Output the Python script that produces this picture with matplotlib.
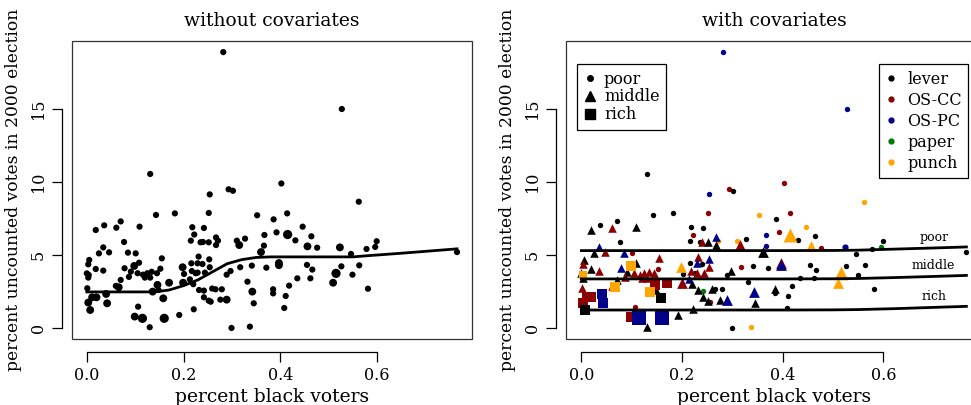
import numpy as np
import matplotlib.pyplot as plt
from matplotlib.patches import Rectangle
from matplotlib.lines import Line2D

# county data: percent black voters, percent uncounted votes
pct_black = [0.282, 0.527, 0.131, 0.293, 0.302, 0.254, 0.402, 0.562, 0.143, 0.182,
             0.252, 0.414, 0.352, 0.386, 0.036, 0.070, 0.218, 0.242, 0.222, 0.446,
             0.392, 0.367, 0.464, 0.431, 0.327, 0.310, 0.215, 0.235, 0.077, 0.271,
             0.366, 0.476, 0.523, 0.578, 0.596, 0.599, 0.765, 0.546, 0.563, 0.526,
             0.549, 0.581, 0.455, 0.466, 0.435, 0.462, 0.418, 0.411, 0.408, 0.385,
             0.371, 0.341, 0.317, 0.332, 0.337, 0.299, 0.289, 0.279, 0.266, 0.256,
             0.216, 0.239, 0.201, 0.225, 0.242, 0.101, 0.152, 0.106,
             0.0185, 0.061, 0.109, 0.267, 0.240, 0.252, 0.267, 0.315, 0.360, 0.415,
             0.456, 0.515, 0.509, 0.397, 0.397, 0.385, 0.342, 0.345, 0.297, 0.276,
             0.289, 0.259, 0.252, 0.242, 0.231, 0.229, 0.253, 0.254, 0.198, 0.217,
             0.229, 0.244, 0.199, 0.213, 0.220, 0.232, 0.191, 0.221, 0.130, 0.034,
             0.085, 0.046, 0.025, 0.155, 0.005, 0.003, 0.0185, 0.034, 0.078, 0.108,
             0.091, 0.000, 0.003, 0.087, 0.105, 0.116, 0.125, 0.134, 0.145, 0.120,
             0.131, 0.070, 0.060, 0.001, 0.148,
             0.098, 0.004, 0.066, 0.146, 0.170, 0.136, 0.158, 0.011, 0.020, 0.003,
             0.040, 0.042, 0.007, 0.099, 0.115, 0.160]
pct_uncounted = [18.9, 15.0, 10.55, 9.5, 9.4, 9.15, 9.9, 8.65, 7.74, 7.85,
                 7.88, 7.85, 7.72, 7.44, 7.03, 7.3, 6.9, 6.85, 6.4, 6.94,
                 6.55, 6.37, 6.28, 6.0, 6.12, 5.98, 5.98, 5.87, 5.89, 5.98,
                 5.64, 5.5, 5.52, 5.41, 5.55, 5.94, 5.2, 5.07, 4.29, 4.22,
                 3.65, 2.69, 4.32, 4.0, 3.4, 3.4, 2.9, 2.19, 1.37, 2.37,
                 4.13, 4.27, 4.16, 3.17, 0.09, 0.0, 3.65, 2.65, 2.65, 1.8,
                 4.43, 4.38, 3.7, 3.75, 2.56, 5.11, 4.06, 1.46,
                 6.71, 6.87, 6.94, 6.2, 5.89, 5.87, 5.68, 5.68, 5.2, 6.4,
                 5.59, 3.74, 3.1, 4.45, 4.3, 2.65, 2.49, 1.69, 3.9, 1.94,
                 1.94, 2.7, 1.87, 2.1, 4.89, 4.43, 4.7, 4.16, 4.16, 3.9,
                 3.79, 3.79, 3.1, 3.33, 3.0, 2.6, 0.89, 1.28, 0.05, 5.52,
                 5.16, 5.18, 5.11, 4.77, 4.66, 4.36, 4.04, 3.93, 4.09, 4.47,
                 3.86, 3.74, 3.45, 3.5, 3.75, 3.65, 3.75, 3.85, 3.75, 3.45,
                 3.45, 3.29, 2.88, 2.72, 2.6,
                 4.25, 3.63, 2.79, 2.95, 3.1, 2.49, 2.03, 2.1, 2.1, 1.74,
                 2.33, 1.69, 1.23, 0.78, 0.66, 0.66]
# income group: P poor, M middle, R rich
income = list("P" * 68 + "M" * 65 + "R" * 16)
# voting machine: L lever, C OS-CC, B OS-PC, G paper, U punch
machine = list("BBLCLBCULL" "CCULLLLLCU" "CBLLLULLLU" "BCBLGLLLLL"
               "LLLLLLLLLL" "LLCLULLLLC" "LLLLGCCC"
               "LCLBCLLCLU" "UUUCBLBLLL" "BLLLCBBCUC" "CCCBLLLLLB"
               "BCLCLCLCBL" "LBLCCCCCCC" "CLCCL"
               "UUUCCULCCC" "BBLCBB")
# marker size class (1 small .. 3 large)
weight = ([1] * 32 + [2] + [1] * 35 +
          [1, 1, 1, 1, 1, 1, 1, 2, 2, 3, 2, 3, 2, 2, 2, 1, 2, 1, 1, 1,
           2, 1, 1, 1, 1, 1, 1, 1, 2, 1, 1, 1, 2] + [1] * 32 +
          [2, 1, 2, 2, 2, 2, 2, 2, 2, 2, 2, 2, 2, 2, 3, 3])

# fitted curves
curve_x = [0, 0.14, 0.17, 0.2, 0.23, 0.26, 0.29, 0.32, 0.35, 0.38, 0.45, 0.55, 0.58, 0.65, 0.765]
curve_y = [2.47, 2.47, 2.6, 2.9, 3.3, 3.85, 4.4, 4.68, 4.83, 4.87, 4.87, 4.87, 4.95, 5.12, 5.42]
fit_x = [0, 0.2, 0.4, 0.5, 0.55, 0.62, 0.7, 0.765]
fit_poor = [5.3, 5.3, 5.3, 5.31, 5.33, 5.4, 5.48, 5.55]
fit_middle = [3.36, 3.36, 3.36, 3.37, 3.39, 3.45, 3.53, 3.6]
fit_rich = [1.23, 1.23, 1.23, 1.24, 1.26, 1.32, 1.41, 1.48]

machine_names = {"L": "lever", "C": "OS-CC", "B": "OS-PC", "G": "paper", "U": "punch"}
machine_colors = {"L": "black", "C": "#8B0000", "B": "#00008B", "G": "#007A00", "U": "#FFA500"}
income_names = {"P": "poor", "M": "middle", "R": "rich"}
income_marker = {"P": "o", "M": "^", "R": "s"}

plt.rcParams['font.family'] = ['DejaVu Serif']
plt.rcParams['axes.linewidth'] = 0.9

fig = plt.figure(figsize=(9.71, 4.05), dpi=100)
ax1 = fig.add_axes([72 / 971, 66 / 405, 400 / 971, 298 / 405])
ax2 = fig.add_axes([566 / 971, 66 / 405, 416 / 971, 298 / 405])

xs = np.array(pct_black)
ys = np.array(pct_uncounted)


def r_style(ax, title):
    # R-ish look: box plus detached axes
    ax.set_xlim(-0.0306, 0.796)
    ax.set_ylim(-0.756, 19.66)
    for s in ['top', 'right']:
        ax.spines[s].set_visible(False)
    ax.spines['bottom'].set_position(('outward', 9))
    ax.spines['left'].set_position(('outward', 7))
    ax.spines['bottom'].set_bounds(0, 0.6)
    ax.spines['left'].set_bounds(0, 15)
    ax.add_patch(Rectangle((0, 0), 1, 1, transform=ax.transAxes, fill=False,
                           lw=0.9, ec='#333333', clip_on=False, zorder=5))
    ax.set_xticks([0, 0.2, 0.4, 0.6])
    ax.set_xticklabels(["0.0", "0.2", "0.4", "0.6"])
    ax.set_yticks([0, 5, 10, 15])
    ax.set_yticklabels(["0", "5", "10", "15"], rotation=90, va='center')
    ax.tick_params(length=7, width=0.9, labelsize=11.5, pad=4)
    ax.set_xlabel("percent black voters", fontsize=13.5, labelpad=3)
    ax.set_ylabel("percent uncounted votes in 2000 election", fontsize=12.3, labelpad=6)
    ax.set_title(title, fontsize=13.5, pad=11)


# left: no covariates
sz_left = {1: 20, 2: 32, 3: 44}
ax1.scatter(xs, ys, s=[sz_left[k] for k in weight], c='black', lw=0, zorder=3)
ax1.plot(curve_x, curve_y, color='black', lw=2, zorder=4)
r_style(ax1, "without covariates")

# right: with covariates
sz_dot = {1: 15, 2: 20, 3: 26}
sz_shape = {1: 38, 2: 60, 3: 100}
for i in range(len(xs)):
    inc = income[i]
    s = sz_dot[weight[i]] if inc == "P" else sz_shape[weight[i]]
    ax2.scatter(xs[i], ys[i], s=s, marker=income_marker[inc],
                color=machine_colors[machine[i]], lw=0, zorder=3)
for fy, lab in [(fit_poor, "poor"), (fit_middle, "middle"), (fit_rich, "rich")]:
    ax2.plot(fit_x, fy, color='black', lw=2, zorder=4)
    ax2.text(0.70, fy[-2] + 0.72, lab, fontsize=9, ha='center', va='center')
r_style(ax2, "with covariates")

h1 = [Line2D([], [], ls='', marker=income_marker[k], color='black',
             markersize=4 if k == "P" else 6.5, label=income_names[k]) for k in "PMR"]
leg1 = ax2.legend(handles=h1, loc='upper left', bbox_to_anchor=(0.026, 0.922),
                  fontsize=11.5, frameon=True, fancybox=False, edgecolor='black',
                  framealpha=1, handlelength=0.8, handletextpad=0.5,
                  borderpad=0.4, labelspacing=0.05, borderaxespad=0)
leg1.get_frame().set_linewidth(0.9)
ax2.add_artist(leg1)
h2 = [Line2D([], [], ls='', marker='o', color=machine_colors[k], markersize=3.5,
             label=machine_names[k]) for k in "LCBGU"]
leg2 = ax2.legend(handles=h2, loc='upper right', bbox_to_anchor=(0.967, 0.922),
                  fontsize=11.5, frameon=True, fancybox=False, edgecolor='black',
                  framealpha=1, handlelength=0.8, handletextpad=0.6,
                  borderpad=0.4, labelspacing=0.25, borderaxespad=0)
leg2.get_frame().set_linewidth(0.9)

fig.savefig("out.png", dpi=100)
